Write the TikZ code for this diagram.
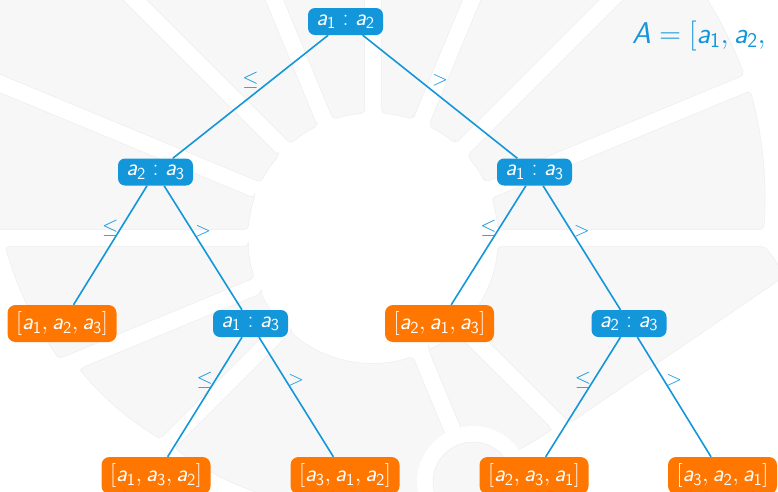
\RequirePackage{fix-cm}
\documentclass[tikz,border=0pt]{standalone}
\usetikzlibrary{calc}
\definecolor{tblue}{RGB}{20,150,218}
\definecolor{torange}{RGB}{255,119,0}
\newcommand\va[1]{\mbox{\sffamily\itshape a}_{\mathsf{#1}}}
\newcommand\bgsector[4]{%
  \pgfmathsetmacro\sA{#1+atan(8.5/#3)}%
  \pgfmathsetmacro\sB{#2-atan(8.5/#4)}%
  \pgfmathsetmacro\iA{#1+3.9}%
  \pgfmathsetmacro\iB{#2-3.9}%
  \filldraw[bgsec] (\iA:125) -- plot[domain=\sA:\sB, samples=20] (\x:{#3+(#4-#3)*(\x-#1)/(#2-#1)}) -- (\iB:125) arc[start angle=\iB, end angle=\iA, radius=125] -- cycle;}
\begin{document}
\begin{tikzpicture}[x=1pt,y=-1pt,
  bgsec/.style={fill=black!3, draw=black!7, line width=0.5pt, rounded corners=4pt},
  bnode/.style={fill=tblue, text=white, rounded corners=7pt, minimum width=75pt, minimum height=27pt, inner sep=1pt, font=\fontsize{24}{28}\selectfont},
  onode/.style={fill=torange, text=white, rounded corners=8pt, minimum width=109pt, minimum height=37pt, inner sep=1pt, font=\fontsize{24}{28}\selectfont},
  conn/.style={draw=tblue, line width=1.6pt},
  lbl/.style={midway, yshift=17pt, text=tblue, inner sep=0pt, font=\fontsize{21}{24}\selectfont}]
\useasboundingbox (0,0) rectangle (778,491);
\clip (0,0) rectangle (778,491);
% background wheel
\begin{scope}[shift={(373,238)}, yscale=-1]
  \bgsector{0}{22.5}{390}{406}
  \bgsector{22.5}{45}{405}{415}
  \bgsector{45}{67.5}{450}{450}
  \bgsector{67.5}{90}{450}{450}
  \bgsector{90}{112.5}{450}{450}
  \bgsector{112.5}{135}{460}{460}
  \bgsector{135}{157.5}{470}{470}
  \bgsector{157.5}{180}{430}{430}
  \bgsector{180}{202.5}{370}{334}
  \bgsector{202.5}{225}{324}{290}
  \bgsector{225}{292.5}{290}{256}
  \bgsector{292.5}{315}{250}{263}
  \filldraw[bgsec] (318.9:125) -- (197,-185) -- (412,-38) -- (402,-22) -- (392,-8.5) -- (356.1:125) arc[start angle=356.1, end angle=318.9, radius=125] -- cycle;
\end{scope}
\fill[white] (473,482) circle[radius=56];
\filldraw[fill=black!3, draw=black!7, line width=0.5pt] (473,482) circle[radius=40];
% equation
\node[anchor=base west, text=tblue, font=\fontsize{30}{34}\selectfont, inner sep=0pt] (eq) at (632,43) {$\mbox{\sffamily\itshape A} = \mathsf{[}\va1, \va2,$};
% tree nodes
\node[bnode] (n0) at (345.5,21.5) {$\va1 \mathrel{\mathsf{:}} \va2$};
\node[bnode] (n1) at (155.5,172) {$\va2 \mathrel{\mathsf{:}} \va3$};
\node[bnode] (n2) at (534.5,172) {$\va1 \mathrel{\mathsf{:}} \va3$};
\node[onode] (n3) at (62,323.5) {$\mathsf{[}\va1, \va2, \va3\mathsf{]}$};
\node[bnode] (n4) at (250.5,323.5) {$\va1 \mathrel{\mathsf{:}} \va3$};
\node[onode] (n5) at (439.5,323.5) {$\mathsf{[}\va2, \va1, \va3\mathsf{]}$};
\node[bnode] (n6) at (629,323.5) {$\va2 \mathrel{\mathsf{:}} \va3$};
\node[onode] (n7) at (156,475.5) {$\mathsf{[}\va1, \va3, \va2\mathsf{]}$};
\node[onode] (n8) at (345,475.5) {$\mathsf{[}\va3, \va1, \va2\mathsf{]}$};
\node[onode] (n9) at (534,475.5) {$\mathsf{[}\va2, \va3, \va1\mathsf{]}$};
\node[onode] (n10) at (722.5,475.5) {$\mathsf{[}\va3, \va2, \va1\mathsf{]}$};
% connectors
\draw[conn] (n0) -- node[lbl] (l1) {$\leq$} (n1);
\draw[conn] (n0) -- node[lbl] (l2) {$>$} (n2);
\draw[conn] (n1) -- node[lbl] (l3) {$\leq$} (n3);
\draw[conn] (n1) -- node[lbl] (l4) {$>$} (n4);
\draw[conn] (n2) -- node[lbl] (l5) {$\leq$} (n5);
\draw[conn] (n2) -- node[lbl] (l6) {$>$} (n6);
\draw[conn] (n4) -- node[lbl] (l7) {$\leq$} (n7);
\draw[conn] (n4) -- node[lbl] (l8) {$>$} (n8);
\draw[conn] (n6) -- node[lbl] (l9) {$\leq$} (n9);
\draw[conn] (n6) -- node[lbl] (l10) {$>$} (n10);
\end{tikzpicture}
\end{document}
